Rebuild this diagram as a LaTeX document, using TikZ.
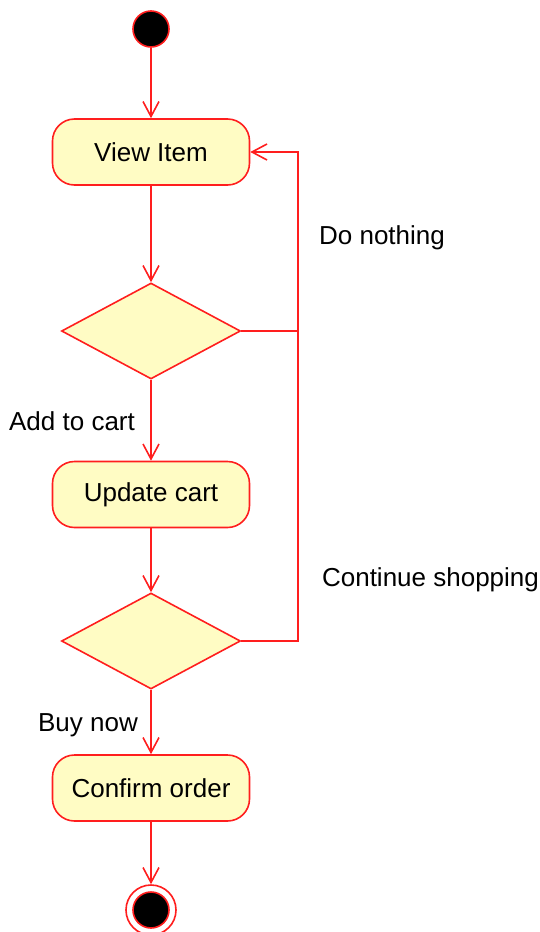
\documentclass[tikz,border=0pt]{standalone}
\usepackage{fontspec}
\setmainfont{Liberation Sans}
\usetikzlibrary{arrows.meta,shapes.geometric}
\definecolor{flowred}{RGB}{255,30,30}
\definecolor{actfill}{RGB}{255,252,196}
\tikzset{
  flow/.style={draw=flowred, line width=1.6pt},
  arr/.style={flow, -{Straight Barb[length=15pt,width=16pt,line width=1.6pt]}},
  action/.style={flow, fill=actfill, rounded corners=22pt, minimum width=197pt,
    minimum height=66pt, inner sep=0pt, font=\fontsize{26}{30}\selectfont},
  decision/.style={flow, fill=actfill, diamond, minimum width=179pt,
    minimum height=96pt, inner sep=0pt},
  guard/.style={font=\fontsize{26}{30}\selectfont, inner sep=0pt},
  startnode/.style={flow, circle, fill=black, minimum size=36pt, inner sep=0pt},
}
\begin{document}
\begin{tikzpicture}[x=1pt, y=-1pt]
\useasboundingbox (0,0) rectangle (540,932);

% activity nodes
\node[startnode] (start) at (151,29) {};
\node[action] (view) at (151,152) {\raisebox{-1.5pt}{View Item}};
\node[decision] (d1) at (151,331) {};
\node[action] (update) at (151,494.5) {\raisebox{-1.5pt}{Update cart}};
\node[decision] (d2) at (151,641) {};
\node[action] (confirm) at (151,788) {\raisebox{-1.5pt}{Confirm order}};
\node[flow, circle, fill=white, minimum size=50pt, inner sep=0pt] (final) at (151,910) {};
\node[startnode] (finalin) at (151,910) {};

% loop-back rail
\coordinate (railtop) at (298,152);
\coordinate (railmid) at (298,331);
\coordinate (railbot) at (298,641);

% connectors
\draw[arr] (start) -- (view);
\draw[arr] (view) -- (d1);
\draw[arr] (d1) -- (update);
\draw[arr] (update) -- (d2);
\draw[arr] (d2) -- (confirm);
\draw[arr] (confirm) -- (final);
\draw[arr] (d1.east) -- (railmid) -- (railtop) -- (view.east);
\draw[flow] (d2.east) -- (railbot) -- (railmid);

% guard labels
\node[guard] (lnothing) at (382,238) {Do nothing};
\node[guard] (ladd) at (72,421) {Add to cart};
\node[guard] (lcont) at (430.5,580) {Continue shopping};
\node[guard] (lbuy) at (88,725) {Buy now};
\end{tikzpicture}
\end{document}
